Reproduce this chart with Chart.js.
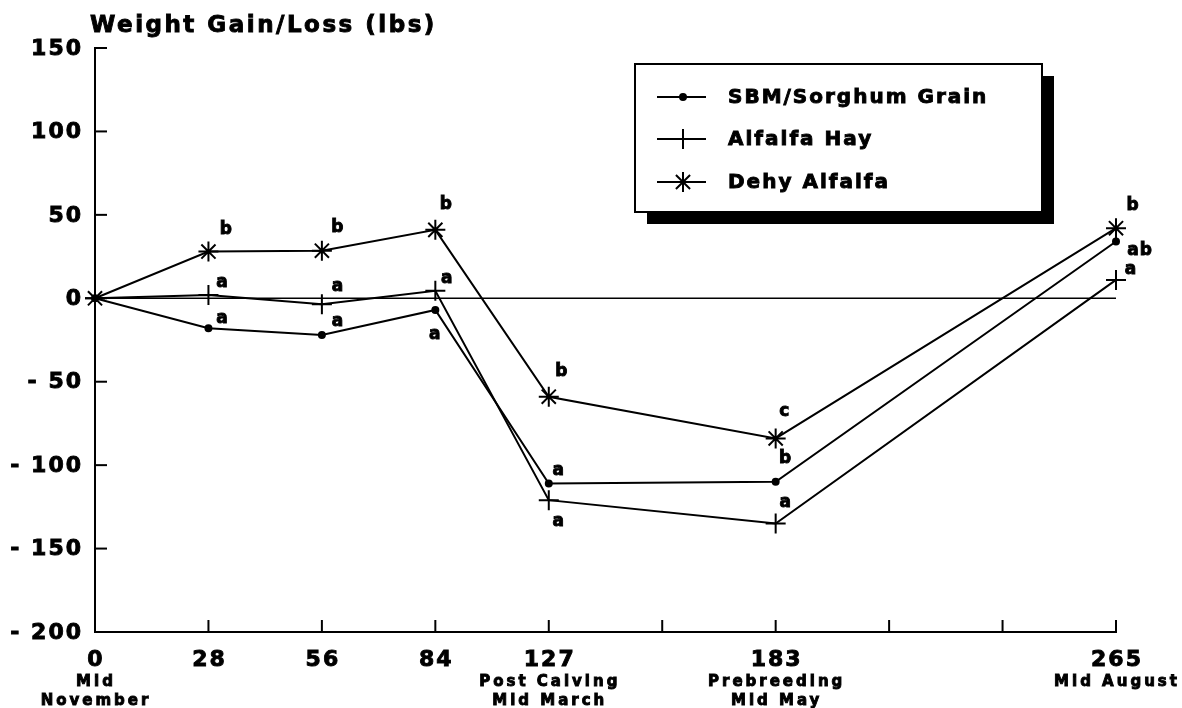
<!DOCTYPE html>
<html>
<head>
<meta charset="utf-8">
<title>Weight Gain/Loss</title>
<script src="https://cdn.jsdelivr.net/npm/chart.js@4.4.1/dist/chart.umd.min.js"></script>
<style>
  html, body { margin: 0; padding: 0; background: #fff; }
  canvas { display: block; }
</style>
</head>
<body>
<canvas id="weightChart" width="1182" height="708"></canvas>
<script>
// days on test, ticks are evenly spaced so blank slots keep the gaps
var categories = ['0', '28', '56', '84', '127', '', '183', '', '', '265'];
var subLabels = [['Mid', 'November'], [], [], [], ['Post Calving', 'Mid March'], [], ['Prebreeding', 'Mid May'], [], [], ['Mid August']];
var yTickValues = [-200, -150, -100, -50, 0, 50, 100, 150];

// weight change, lbs
var sbmGrain    = [0, -18, -22, -7, -111, null, -110, null, null, 34];
var alfalfaHay  = [0, 2, -3.5, 4.5, -121, null, -135, null, null, 11];
var dehyAlfalfa = [0, 28, 28.5, 41, -59, null, -84, null, null, 42];
var zeroLine    = [0, 0, 0, 0, 0, 0, 0, 0, 0, 0];

// significance letters
var sbmLetters  = ['', 'a', 'a', 'a', 'a', '', 'b', '', '', 'ab'];
var hayLetters  = ['', 'a', 'a', 'a', 'a', '', 'a', '', '', 'a'];
var dehyLetters = ['', 'b', 'b', 'b', 'b', '', 'c', '', '', 'b'];

var titleText = 'Weight Gain/Loss (lbs)';

// where each letter sits next to its point (px)
var noteOffsets = {
  sbm:  [[0, 0], [14, -10], [16, -13], [0, 25], [10, -13], [0, 0], [10, -23], [0, 0], [0, 0], [24, 9]],
  hay:  [[0, 0], [14, -12], [16, -18], [12, -12], [10, 21], [0, 0], [10, -21], [0, 0], [0, 0], [15, -10]],
  dehy: [[0, 0], [18, -22], [16, -23], [11, -25], [13, -25], [0, 0], [9, -27], [0, 0], [0, 0], [17, -23]]
};

var FONT = '"DejaVu Sans", "Liberation Sans", Arial, sans-serif';

function seriesSet(label, data, style, radius, key, letters) {
  return {
    label: label,
    data: data,
    key: key,
    letters: letters,
    borderColor: '#000',
    backgroundColor: '#000',
    borderWidth: 2,
    pointStyle: style,
    pointRadius: radius,
    pointBorderWidth: 2,
    pointBorderColor: '#000',
    pointBackgroundColor: '#000',
    spanGaps: true,
    tension: 0,
    clip: false
  };
}

function setText(ctx, size, spacing) {
  ctx.font = 'bold ' + size + 'px ' + FONT;
  ctx.letterSpacing = spacing + 'px';
}

// plotter pens draw a heavy line, so fill and stroke the text
function heavyText(ctx, str, x, y) {
  ctx.lineWidth = 0.9;
  ctx.fillText(str, x, y);
  ctx.strokeText(str, x, y);
}

var plotterPlugin = {
  id: 'plotter',
  afterDraw: function(chart) {
    var ctx = chart.ctx;
    var xs = chart.scales.x, ys = chart.scales.y;
    var area = chart.chartArea;

    ctx.save();
    ctx.strokeStyle = '#000';
    ctx.fillStyle = '#000';
    ctx.lineWidth = 2;

    // tick marks point inward
    yTickValues.forEach(function(v) {
      var y = ys.getPixelForValue(v);
      ctx.beginPath();
      ctx.moveTo(area.left, y);
      ctx.lineTo(area.left + 12, y);
      ctx.stroke();
    });
    categories.forEach(function(c, i) {
      if (i === 0) return;
      var x = xs.getPixelForValue(i);
      ctx.beginPath();
      ctx.moveTo(x, area.bottom);
      ctx.lineTo(x, area.bottom - 12);
      ctx.stroke();
    });

    // y labels
    setText(ctx, 22, 2);
    ctx.textAlign = 'right';
    ctx.textBaseline = 'middle';
    yTickValues.forEach(function(v) {
      heavyText(ctx, String(v).replace('-', '- '), area.left - 12, ys.getPixelForValue(v) + 1);
    });

    // x labels
    ctx.textAlign = 'center';
    ctx.textBaseline = 'alphabetic';
    categories.forEach(function(c, i) {
      var x = xs.getPixelForValue(i);
      if (c) {
        setText(ctx, 22, 2);
        heavyText(ctx, c, x + 1, area.bottom + 34);
      }
      setText(ctx, 15, 3);
      subLabels[i].forEach(function(line, j) {
        heavyText(ctx, line, x + 1, area.bottom + 54 + j * 19);
      });
    });

    // title
    setText(ctx, 23, 2.5);
    ctx.textAlign = 'left';
    heavyText(ctx, titleText, 90, 32);

    // significance letters
    setText(ctx, 17, 1);
    ctx.textAlign = 'center';
    ctx.textBaseline = 'middle';
    chart.data.datasets.forEach(function(ds, di) {
      if (!ds.letters) return;
      var meta = chart.getDatasetMeta(di);
      ds.letters.forEach(function(l, i) {
        if (!l) return;
        var pt = meta.data[i];
        var off = noteOffsets[ds.key][i];
        heavyText(ctx, l, pt.x + off[0], pt.y + off[1]);
      });
    });

    // legend box with drop shadow
    var bx = 635, by = 64, bw = 407, bh = 148;
    ctx.fillRect(bx + 12, by + 12, bw, bh);
    ctx.fillStyle = '#fff';
    ctx.fillRect(bx, by, bw, bh);
    ctx.fillStyle = '#000';
    ctx.lineWidth = 2;
    ctx.strokeRect(bx, by, bw, bh);

    var rowY = [97, 139, 182];
    var shown = chart.data.datasets.filter(function(ds) { return ds.letters; });
    shown.forEach(function(ds, k) {
      var y = rowY[k];
      ctx.lineWidth = 2;
      ctx.beginPath();
      ctx.moveTo(657, y);
      ctx.lineTo(706, y);
      ctx.stroke();
      Chart.helpers.drawPoint(ctx, {
        pointStyle: ds.pointStyle,
        radius: ds.pointRadius,
        borderWidth: 2,
        rotation: 0
      }, 683, y);
      setText(ctx, 20, 2);
      ctx.textAlign = 'left';
      ctx.textBaseline = 'middle';
      heavyText(ctx, ds.label, 728, y + 1);
    });

    ctx.restore();
  }
};

var ctx = document.getElementById('weightChart').getContext('2d');

var chart = new Chart(ctx, {
  type: 'line',
  data: {
    labels: categories,
    datasets: [
      {
        label: 'zero',
        data: zeroLine,
        borderColor: '#000',
        borderWidth: 1.5,
        pointRadius: 0,
        clip: false
      },
      seriesSet('SBM/Sorghum Grain', sbmGrain, 'circle', 3, 'sbm', sbmLetters),
      seriesSet('Alfalfa Hay', alfalfaHay, 'cross', 10, 'hay', hayLetters),
      seriesSet('Dehy Alfalfa', dehyAlfalfa, 'star', 10, 'dehy', dehyLetters)
    ]
  },
  options: {
    responsive: false,
    animation: false,
    events: [],
    layout: { padding: { left: 95, right: 66, top: 48, bottom: 76 } },
    plugins: {
      legend: { display: false },
      tooltip: { enabled: false }
    },
    scales: {
      x: {
        type: 'category',
        offset: false,
        grid: { display: false, drawTicks: false },
        border: { display: true, color: '#000', width: 2 },
        ticks: { display: false }
      },
      y: {
        min: -200,
        max: 150,
        afterBuildTicks: function(scale) {
          scale.ticks = yTickValues.map(function(v) { return { value: v }; });
        },
        grid: { display: false, drawTicks: false },
        border: { display: true, color: '#000', width: 2 },
        ticks: { display: false }
      }
    }
  },
  plugins: [plotterPlugin]
});
</script>
</body>
</html>
